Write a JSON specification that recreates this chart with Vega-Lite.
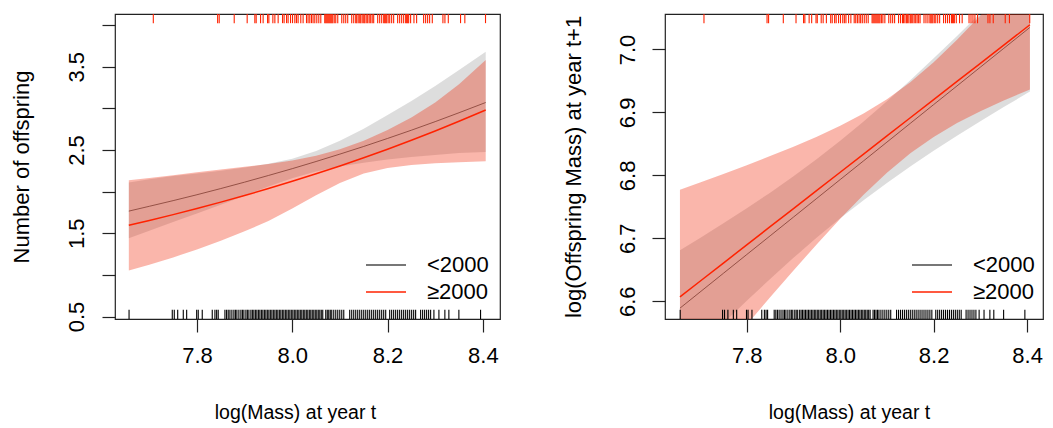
{
  "$schema": "https://vega.github.io/schema/vega-lite/v6.json",
  "background": "white",
  "padding": {"left": 9, "top": 12, "right": 0, "bottom": 0},
  "bounds": "flush",
  "spacing": 165,
  "config": {
    "font": "Liberation Sans",
    "view": {"stroke": "#222222", "strokeWidth": 1.2},
    "axis": {
      "grid": false, "domain": false, "tickColor": "#222222", "tickSize": 13, "tickWidth": 1.2,
      "labelFontSize": 22, "titleFontSize": 22, "labelColor": "black", "titleColor": "black",
      "titleFontWeight": "normal", "labelFont": "Liberation Sans", "titleFont": "Liberation Sans",
      "labelFlush": false, "labelOverlap": false, "labelBound": false
    },
    "legend": {
      "title": null, "orient": "none", "padding": 0,
      "symbolType": "M-2,0L2,0", "symbolSize": 400, "symbolStrokeWidth": 1.3,
      "labelFontSize": 22, "labelFont": "Liberation Sans", "labelColor": "black",
      "labelOffset": 30, "rowPadding": 5, "labelBaseline": "middle"
    }
  },
  "datasets": {
    "curves1": [
      {"x": 7.657, "g": "<2000", "fit": 1.766, "lo": 1.44, "hi": 2.11},
      {"x": 7.70, "g": "<2000", "fit": 1.824, "lo": 1.53, "hi": 2.15},
      {"x": 7.75, "g": "<2000", "fit": 1.892, "lo": 1.635, "hi": 2.189},
      {"x": 7.80, "g": "<2000", "fit": 1.963, "lo": 1.737, "hi": 2.219},
      {"x": 7.85, "g": "<2000", "fit": 2.037, "lo": 1.843, "hi": 2.252},
      {"x": 7.90, "g": "<2000", "fit": 2.114, "lo": 1.952, "hi": 2.289},
      {"x": 7.95, "g": "<2000", "fit": 2.194, "lo": 2.062, "hi": 2.335},
      {"x": 8.00, "g": "<2000", "fit": 2.276, "lo": 2.162, "hi": 2.396},
      {"x": 8.05, "g": "<2000", "fit": 2.362, "lo": 2.243, "hi": 2.487},
      {"x": 8.10, "g": "<2000", "fit": 2.451, "lo": 2.302, "hi": 2.610},
      {"x": 8.15, "g": "<2000", "fit": 2.543, "lo": 2.347, "hi": 2.756},
      {"x": 8.20, "g": "<2000", "fit": 2.639, "lo": 2.385, "hi": 2.920},
      {"x": 8.25, "g": "<2000", "fit": 2.738, "lo": 2.415, "hi": 3.090},
      {"x": 8.30, "g": "<2000", "fit": 2.841, "lo": 2.44, "hi": 3.27},
      {"x": 8.35, "g": "<2000", "fit": 2.948, "lo": 2.465, "hi": 3.46},
      {"x": 8.406, "g": "<2000", "fit": 3.071, "lo": 2.475, "hi": 3.68},
      {"x": 7.657, "g": "≥2000", "fit": 1.595, "lo": 1.054, "hi": 2.137},
      {"x": 7.70, "g": "≥2000", "fit": 1.654, "lo": 1.122, "hi": 2.165},
      {"x": 7.75, "g": "≥2000", "fit": 1.724, "lo": 1.210, "hi": 2.198},
      {"x": 7.80, "g": "≥2000", "fit": 1.798, "lo": 1.306, "hi": 2.232},
      {"x": 7.85, "g": "≥2000", "fit": 1.874, "lo": 1.411, "hi": 2.265},
      {"x": 7.90, "g": "≥2000", "fit": 1.954, "lo": 1.523, "hi": 2.298},
      {"x": 7.95, "g": "≥2000", "fit": 2.037, "lo": 1.647, "hi": 2.333},
      {"x": 8.00, "g": "≥2000", "fit": 2.124, "lo": 1.796, "hi": 2.375},
      {"x": 8.05, "g": "≥2000", "fit": 2.215, "lo": 1.956, "hi": 2.43},
      {"x": 8.10, "g": "≥2000", "fit": 2.309, "lo": 2.104, "hi": 2.51},
      {"x": 8.15, "g": "≥2000", "fit": 2.408, "lo": 2.217, "hi": 2.61},
      {"x": 8.20, "g": "≥2000", "fit": 2.510, "lo": 2.285, "hi": 2.74},
      {"x": 8.25, "g": "≥2000", "fit": 2.617, "lo": 2.321, "hi": 2.89},
      {"x": 8.30, "g": "≥2000", "fit": 2.729, "lo": 2.341, "hi": 3.07},
      {"x": 8.35, "g": "≥2000", "fit": 2.845, "lo": 2.353, "hi": 3.29},
      {"x": 8.406, "g": "≥2000", "fit": 2.981, "lo": 2.365, "hi": 3.58}
    ],
    "curves2": [
      {"x": 7.657, "g": "<2000", "fit": 6.589, "lo": 6.497, "hi": 6.681},
      {"x": 7.70, "g": "<2000", "fit": 6.6146, "lo": 6.5286, "hi": 6.7006},
      {"x": 7.75, "g": "<2000", "fit": 6.6444, "lo": 6.565, "hi": 6.7238},
      {"x": 7.80, "g": "<2000", "fit": 6.6742, "lo": 6.6007, "hi": 6.7477},
      {"x": 7.85, "g": "<2000", "fit": 6.7039, "lo": 6.6353, "hi": 6.7725},
      {"x": 7.90, "g": "<2000", "fit": 6.7337, "lo": 6.6689, "hi": 6.7985},
      {"x": 7.95, "g": "<2000", "fit": 6.7635, "lo": 6.7011, "hi": 6.8259},
      {"x": 8.00, "g": "<2000", "fit": 6.7933, "lo": 6.7317, "hi": 6.8549},
      {"x": 8.05, "g": "<2000", "fit": 6.823, "lo": 6.7606, "hi": 6.8854},
      {"x": 8.10, "g": "<2000", "fit": 6.8528, "lo": 6.788, "hi": 6.9176},
      {"x": 8.15, "g": "<2000", "fit": 6.8826, "lo": 6.814, "hi": 6.9512},
      {"x": 8.20, "g": "<2000", "fit": 6.9124, "lo": 6.8389, "hi": 6.9859},
      {"x": 8.25, "g": "<2000", "fit": 6.9421, "lo": 6.8627, "hi": 7.0215},
      {"x": 8.30, "g": "<2000", "fit": 6.9719, "lo": 6.8859, "hi": 7.0579},
      {"x": 8.35, "g": "<2000", "fit": 7.0017, "lo": 6.9084, "hi": 7.095},
      {"x": 8.406, "g": "<2000", "fit": 7.035, "lo": 6.9331, "hi": 7.1369},
      {"x": 7.657, "g": "≥2000", "fit": 6.607, "lo": 6.437, "hi": 6.777},
      {"x": 7.70, "g": "≥2000", "fit": 6.6318, "lo": 6.475, "hi": 6.7886},
      {"x": 7.75, "g": "≥2000", "fit": 6.6607, "lo": 6.5191, "hi": 6.8023},
      {"x": 7.80, "g": "≥2000", "fit": 6.6895, "lo": 6.5628, "hi": 6.8162},
      {"x": 7.85, "g": "≥2000", "fit": 6.7184, "lo": 6.6062, "hi": 6.8306},
      {"x": 7.90, "g": "≥2000", "fit": 6.7472, "lo": 6.6488, "hi": 6.8456},
      {"x": 7.95, "g": "≥2000", "fit": 6.7761, "lo": 6.6907, "hi": 6.8615},
      {"x": 8.00, "g": "≥2000", "fit": 6.8049, "lo": 6.731, "hi": 6.8788},
      {"x": 8.05, "g": "≥2000", "fit": 6.8338, "lo": 6.7693, "hi": 6.8983},
      {"x": 8.10, "g": "≥2000", "fit": 6.8626, "lo": 6.8042, "hi": 6.921},
      {"x": 8.15, "g": "≥2000", "fit": 6.8915, "lo": 6.835, "hi": 6.948},
      {"x": 8.20, "g": "≥2000", "fit": 6.9203, "lo": 6.861, "hi": 6.9796},
      {"x": 8.25, "g": "≥2000", "fit": 6.9492, "lo": 6.883, "hi": 7.0154},
      {"x": 8.30, "g": "≥2000", "fit": 6.978, "lo": 6.9019, "hi": 7.0541},
      {"x": 8.35, "g": "≥2000", "fit": 7.0069, "lo": 6.919, "hi": 7.0948},
      {"x": 8.406, "g": "≥2000", "fit": 7.0392, "lo": 6.9365, "hi": 7.1419}
    ],
    "rugTop": [
      {"x": 7.7084}, {"x": 7.8434}, {"x": 7.8467}, {"x": 7.8782}, {"x": 7.9054}, {"x": 7.9215}, {"x": 7.9243}, {"x": 7.9335}, {"x": 7.9389}, {"x": 7.9482},
      {"x": 7.9509}, {"x": 7.9593}, {"x": 7.9635}, {"x": 7.9704}, {"x": 7.9796}, {"x": 7.9829}, {"x": 7.9880}, {"x": 7.9913}, {"x": 7.9964}, {"x": 8.0006},
      {"x": 8.0054}, {"x": 8.0089}, {"x": 8.0123}, {"x": 8.0179}, {"x": 8.0228}, {"x": 8.0299}, {"x": 8.0332}, {"x": 8.0368}, {"x": 8.0404}, {"x": 8.0437},
      {"x": 8.0473}, {"x": 8.0515}, {"x": 8.0557}, {"x": 8.0599}, {"x": 8.0682}, {"x": 8.0703}, {"x": 8.0724}, {"x": 8.0745}, {"x": 8.0766}, {"x": 8.0787},
      {"x": 8.0808}, {"x": 8.0829}, {"x": 8.0850}, {"x": 8.0881}, {"x": 8.0913}, {"x": 8.0955}, {"x": 8.1039}, {"x": 8.1081}, {"x": 8.1122}, {"x": 8.1164},
      {"x": 8.1248}, {"x": 8.1290}, {"x": 8.1332}, {"x": 8.1353}, {"x": 8.1384}, {"x": 8.1416}, {"x": 8.1437}, {"x": 8.1468}, {"x": 8.1500}, {"x": 8.1521},
      {"x": 8.1552}, {"x": 8.1583}, {"x": 8.1615}, {"x": 8.1646}, {"x": 8.1678}, {"x": 8.1709}, {"x": 8.1793}, {"x": 8.1835}, {"x": 8.1877}, {"x": 8.1919},
      {"x": 8.1940}, {"x": 8.1961}, {"x": 8.1982}, {"x": 8.2013}, {"x": 8.2045}, {"x": 8.2086}, {"x": 8.2128}, {"x": 8.2212}, {"x": 8.2254}, {"x": 8.2296},
      {"x": 8.2338}, {"x": 8.2380}, {"x": 8.2401}, {"x": 8.2422}, {"x": 8.2443}, {"x": 8.2484}, {"x": 8.2554}, {"x": 8.2610}, {"x": 8.2757}, {"x": 8.2799},
      {"x": 8.2841}, {"x": 8.2883}, {"x": 8.2939}, {"x": 8.3162}, {"x": 8.3204}, {"x": 8.3275}, {"x": 8.3532}, {"x": 8.3622}, {"x": 8.4056}
    ],
    "rugBottom": [
      {"x": 7.6575}, {"x": 7.7482}, {"x": 7.7524}, {"x": 7.7596}, {"x": 7.7713}, {"x": 7.7784}, {"x": 7.7994}, {"x": 7.8027}, {"x": 7.8111}, {"x": 7.8321},
      {"x": 7.8377}, {"x": 7.8413}, {"x": 7.8446}, {"x": 7.8587}, {"x": 7.8622}, {"x": 7.8656}, {"x": 7.8692}, {"x": 7.8733}, {"x": 7.8775}, {"x": 7.8807},
      {"x": 7.8838}, {"x": 7.8880}, {"x": 7.8922}, {"x": 7.8954}, {"x": 7.8985}, {"x": 7.9027}, {"x": 7.9058}, {"x": 7.9090}, {"x": 7.9132}, {"x": 7.9163},
      {"x": 7.9194}, {"x": 7.9226}, {"x": 7.9257}, {"x": 7.9289}, {"x": 7.9320}, {"x": 7.9352}, {"x": 7.9383}, {"x": 7.9415}, {"x": 7.9446}, {"x": 7.9477},
      {"x": 7.9509}, {"x": 7.9540}, {"x": 7.9572}, {"x": 7.9603}, {"x": 7.9635}, {"x": 7.9666}, {"x": 7.9697}, {"x": 7.9729}, {"x": 7.9760}, {"x": 7.9792},
      {"x": 7.9823}, {"x": 7.9855}, {"x": 7.9886}, {"x": 7.9917}, {"x": 7.9949}, {"x": 7.9980}, {"x": 8.0012}, {"x": 8.0043}, {"x": 8.0075}, {"x": 8.0106},
      {"x": 8.0138}, {"x": 8.0169}, {"x": 8.0200}, {"x": 8.0232}, {"x": 8.0263}, {"x": 8.0295}, {"x": 8.0326}, {"x": 8.0358}, {"x": 8.0389}, {"x": 8.0420},
      {"x": 8.0452}, {"x": 8.0483}, {"x": 8.0515}, {"x": 8.0546}, {"x": 8.0578}, {"x": 8.0609}, {"x": 8.0640}, {"x": 8.0703}, {"x": 8.0735}, {"x": 8.0766},
      {"x": 8.0798}, {"x": 8.0829}, {"x": 8.0871}, {"x": 8.0913}, {"x": 8.0955}, {"x": 8.0997}, {"x": 8.1039}, {"x": 8.1081}, {"x": 8.1206}, {"x": 8.1248},
      {"x": 8.1290}, {"x": 8.1332}, {"x": 8.1374}, {"x": 8.1416}, {"x": 8.1458}, {"x": 8.1500}, {"x": 8.1542}, {"x": 8.1584}, {"x": 8.1625}, {"x": 8.1667},
      {"x": 8.1709}, {"x": 8.1751}, {"x": 8.1793}, {"x": 8.1835}, {"x": 8.1877}, {"x": 8.1919}, {"x": 8.1961}, {"x": 8.2045}, {"x": 8.2086}, {"x": 8.2128},
      {"x": 8.2170}, {"x": 8.2212}, {"x": 8.2254}, {"x": 8.2296}, {"x": 8.2338}, {"x": 8.2380}, {"x": 8.2422}, {"x": 8.2464}, {"x": 8.2506}, {"x": 8.2548},
      {"x": 8.2589}, {"x": 8.2694}, {"x": 8.2736}, {"x": 8.2778}, {"x": 8.2820}, {"x": 8.2862}, {"x": 8.2904}, {"x": 8.2973}, {"x": 8.3078}, {"x": 8.3203},
      {"x": 8.3287}, {"x": 8.3497}, {"x": 8.3952}
    ]
  },
  "hconcat": [
    {
      "width": 385,
      "height": 305,
      "layer": [
        {
          "data": {"name": "curves1"},
          "transform": [{"filter": "datum.g == '<2000'"}],
          "mark": {"type": "area", "fill": "#000000", "opacity": 0.135, "clip": true},
          "encoding": {
            "x": {"field": "x", "type": "quantitative",
              "scale": {"domain": [7.628, 8.436], "nice": false, "zero": false},
              "axis": {"values": [7.8, 8.0, 8.2, 8.4], "format": ".1f", "title": "log(Mass) at year t",
                "labelBaseline": "alphabetic", "labelPadding": 30, "titleFontSize": 19.5,
                "titleX": 180, "titleAlign": "center", "titleY": 99, "titleBaseline": "alphabetic"}},
            "y": {"field": "lo", "type": "quantitative",
              "scale": {"domain": [0.47, 4.134], "nice": false, "zero": false},
              "axis": {"values": [0.5, 1, 1.5, 2, 2.5, 3, 3.5, 4],
                "labelExpr": "datum.value == 0.5 || datum.value == 1.5 || datum.value == 2.5 || datum.value == 3.5 ? format(datum.value, '.1f') : ''",
                "labelAngle": -90, "labelAlign": "center", "labelBaseline": "alphabetic", "labelPadding": 19,
                "title": "Number of offspring", "titleAngle": -90, "titleAlign": "center", "titleBaseline": "alphabetic",
                "titleX": -87, "titleY": 152.5}},
            "y2": {"field": "hi"}
          }
        },
        {
          "data": {"name": "curves1"},
          "transform": [{"filter": "datum.g == '<2000'"}],
          "mark": {"type": "line", "strokeWidth": 0.8, "clip": true},
          "encoding": {
            "x": {"field": "x", "type": "quantitative"},
            "y": {"field": "fit", "type": "quantitative"},
            "color": {"field": "g", "type": "nominal",
              "scale": {"domain": ["<2000", "≥2000"], "range": ["#4a4a4a", "#ff2200"]},
              "legend": {"legendX": 260, "legendY": 240}}
          }
        },
        {
          "data": {"name": "curves1"},
          "transform": [{"filter": "datum.g == '≥2000'"}],
          "mark": {"type": "area", "fill": "#ef2200", "opacity": 0.33, "clip": true},
          "encoding": {
            "x": {"field": "x", "type": "quantitative"},
            "y": {"field": "lo", "type": "quantitative"},
            "y2": {"field": "hi"}
          }
        },
        {
          "data": {"name": "curves1"},
          "transform": [{"filter": "datum.g == '≥2000'"}],
          "mark": {"type": "line", "strokeWidth": 1.5, "clip": true},
          "encoding": {
            "x": {"field": "x", "type": "quantitative"},
            "y": {"field": "fit", "type": "quantitative"},
            "color": {"field": "g", "type": "nominal",
              "scale": {"domain": ["<2000", "≥2000"], "range": ["#4a4a4a", "#ff2200"]},
              "legend": {"legendX": 260, "legendY": 240}}
          }
        },
        {
          "data": {"name": "rugTop"},
          "mark": {"type": "rule", "color": "#ff2200", "strokeWidth": 1.1},
          "encoding": {
            "x": {"field": "x", "type": "quantitative"},
            "y": {"datum": 4.134},
            "y2": {"datum": 4.024}
          }
        },
        {
          "data": {"name": "rugBottom"},
          "mark": {"type": "rule", "color": "#000000", "strokeWidth": 1.1},
          "encoding": {
            "x": {"field": "x", "type": "quantitative"},
            "y": {"datum": 0.47},
            "y2": {"datum": 0.58}
          }
        }
      ]
    },
    {
      "width": 378,
      "height": 305,
      "layer": [
        {
          "data": {"name": "curves2"},
          "transform": [{"filter": "datum.g == '<2000'"}],
          "mark": {"type": "area", "fill": "#000000", "opacity": 0.135, "clip": true},
          "encoding": {
            "x": {"field": "x", "type": "quantitative",
              "scale": {"domain": [7.625, 8.434], "nice": false, "zero": false},
              "axis": {"values": [7.8, 8.0, 8.2, 8.4], "format": ".1f", "title": "log(Mass) at year t",
                "labelBaseline": "alphabetic", "labelPadding": 30, "titleFontSize": 19.5,
                "titleX": 184, "titleAlign": "center", "titleY": 99, "titleBaseline": "alphabetic"}},
            "y": {"field": "lo", "type": "quantitative",
              "scale": {"domain": [6.5718, 7.0563], "nice": false, "zero": false},
              "axis": {"values": [6.6, 6.7, 6.8, 6.9, 7.0], "format": ".1f",
                "labelAngle": -90, "labelAlign": "center", "labelBaseline": "alphabetic", "labelPadding": 18,
                "title": "log(Offspring Mass) at year t+1", "titleAngle": -90, "titleAlign": "center", "titleBaseline": "alphabetic",
                "titleX": -85, "titleY": 152.5}},
            "y2": {"field": "hi"}
          }
        },
        {
          "data": {"name": "curves2"},
          "transform": [{"filter": "datum.g == '<2000'"}],
          "mark": {"type": "line", "strokeWidth": 0.8, "clip": true},
          "encoding": {
            "x": {"field": "x", "type": "quantitative"},
            "y": {"field": "fit", "type": "quantitative"},
            "color": {"field": "g", "type": "nominal",
              "scale": {"domain": ["<2000", "≥2000"], "range": ["#4a4a4a", "#ff2200"]},
              "legend": {"legendX": 256, "legendY": 240}}
          }
        },
        {
          "data": {"name": "curves2"},
          "transform": [{"filter": "datum.g == '≥2000'"}],
          "mark": {"type": "area", "fill": "#ef2200", "opacity": 0.33, "clip": true},
          "encoding": {
            "x": {"field": "x", "type": "quantitative"},
            "y": {"field": "lo", "type": "quantitative"},
            "y2": {"field": "hi"}
          }
        },
        {
          "data": {"name": "curves2"},
          "transform": [{"filter": "datum.g == '≥2000'"}],
          "mark": {"type": "line", "strokeWidth": 1.5, "clip": true},
          "encoding": {
            "x": {"field": "x", "type": "quantitative"},
            "y": {"field": "fit", "type": "quantitative"},
            "color": {"field": "g", "type": "nominal",
              "scale": {"domain": ["<2000", "≥2000"], "range": ["#4a4a4a", "#ff2200"]},
              "legend": {"legendX": 256, "legendY": 240}}
          }
        },
        {
          "data": {"name": "rugTop"},
          "mark": {"type": "rule", "color": "#ff2200", "strokeWidth": 1.1},
          "encoding": {
            "x": {"field": "x", "type": "quantitative"},
            "y": {"datum": 7.0563},
            "y2": {"datum": 7.0416}
          }
        },
        {
          "data": {"name": "rugBottom"},
          "mark": {"type": "rule", "color": "#000000", "strokeWidth": 1.1},
          "encoding": {
            "x": {"field": "x", "type": "quantitative"},
            "y": {"datum": 6.5718},
            "y2": {"datum": 6.5865}
          }
        }
      ]
    }
  ],
  "resolve": {"scale": {"color": "independent"}, "legend": {"color": "independent"}}
}
